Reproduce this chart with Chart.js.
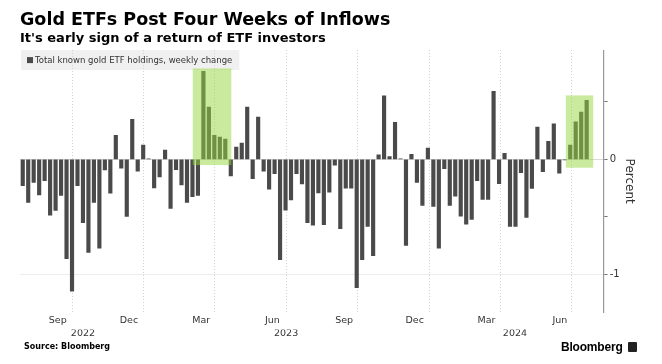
<!DOCTYPE html>
<html>
<head>
<meta charset="utf-8">
<script src="https://cdn.jsdelivr.net/npm/chart.js@4.4.1/dist/chart.umd.min.js"></script>
<style>
  html, body { margin: 0; padding: 0; background: #fff; }
  #wrap { position: relative; width: 662px; height: 364px; }
  #source { position: absolute; left: 24px; top: 342px; font: bold 8px "DejaVu Sans"; color: #000; }
  #logo { position: absolute; left: 561px; top: 340px; font: bold 12px "Liberation Sans"; color: #000; letter-spacing: -0.2px; }
  #logo span { display: inline-block; width: 9px; height: 10px; background: #222; border-radius: 1px; margin-left: 5px; vertical-align: -1px; }
</style>
</head>
<body>
<div id="wrap">
  <canvas id="chart_1" width="662" height="364"></canvas>
  <div id="source">Source: Bloomberg</div>
  <div id="logo">Bloomberg<span></span></div>
</div>
<script>
// weekly change in total known gold ETF holdings, %, late Jul 2022 .. mid Jul 2024
var weeklyChange = [
  -0.23, -0.376, -0.20, -0.31, -0.185, -0.486, -0.445, -0.315, -0.864, -1.147,
  -0.23, -0.552, -0.81, -0.376, -0.772, -0.092, -0.295, 0.208, -0.078, -0.497,
  0.347, -0.104, 0.124, 0.005, -0.249, -0.153, 0.081, -0.428, -0.09, -0.223,
  -0.376, -0.324, -0.315, 0.766, 0.454, 0.208, 0.194, 0.176, -0.145, 0.107,
  0.142, 0.454, -0.168, 0.367, -0.104, -0.26, -0.124, -0.873, -0.442, -0.353,
  -0.124, -0.214, -0.552, -0.572, -0.292, -0.569, -0.286, -0.052, -0.604, -0.251,
  -0.251, -1.116, -0.873, -0.584, -0.838, 0.038, 0.552, 0.023, 0.321, 0.003,
  -0.749, 0.043, -0.202, -0.402, 0.098, -0.41, -0.772, -0.081, -0.402, -0.321,
  -0.494, -0.564, -0.523, -0.185, -0.35, -0.35, 0.592, -0.211, 0.052, -0.584,
  -0.584, -0.116, -0.506, -0.254, 0.28, -0.107, 0.156, 0.309, -0.121, -0.005,
  0.124, 0.327, 0.41, 0.514
];
var seriesName = 'Total known gold ETF holdings, weekly change';

// x axis is in weeks from the first bar
var monthTickWeeks = [6.4, 19.4, 32.6, 45.6, 58.7, 71.6, 84.7, 98.1];
var monthTickLabels = ['Sep', 'Dec', 'Mar', 'Jun', 'Sep', 'Dec', 'Mar', 'Jun'];
var quarterStartWeeks = [9.05, 22.1, 35.1, 48.1, 61.2, 74.25, 87.2, 100.3];
var yearTickWeeks = [11.0, 48.1, 89.9];
var yearTickLabels = ['2022', '2023', '2024'];
var yTickValues = [-1, -0.5, 0, 0.5];

// highlighted inflow streaks: [fromWeek, toWeek, yLow, yHigh]
var inflowStreaks = [
  [31.05, 38.1, -0.05, 0.79],
  [99.2, 104.2, -0.073, 0.556]
];

var barColor = '#4a4a4a';
var txt = '#333';

// legend drawn as a grey label box in the top-left corner of the plot
var legendBox = {
  id: 'legendBox',
  beforeDraw: function(chart) {
    var a = chart.chartArea, ctx = chart.ctx;
    ctx.save();
    ctx.font = '8.5px "DejaVu Sans"';
    var w = ctx.measureText(seriesName).width;
    ctx.fillStyle = '#f0f0f0';
    ctx.fillRect(a.left + 1, a.top, w + 21, 20);
    ctx.restore();
  },
  afterDraw: function(chart) {
    var a = chart.chartArea, ctx = chart.ctx;
    ctx.save();
    ctx.fillStyle = barColor;
    ctx.fillRect(a.left + 7, a.top + 7, 6, 6);
    ctx.fillStyle = txt;
    ctx.font = '8.5px "DejaVu Sans"';
    ctx.textBaseline = 'middle';
    ctx.fillText(seriesName, a.left + 15, a.top + 10.5);
    ctx.restore();
  }
};

var streakBoxes = {
  id: 'streakBoxes',
  afterDatasetsDraw: function(chart) {
    var xs = chart.scales.x, ys = chart.scales.y, ctx = chart.ctx;
    ctx.save();
    ctx.fillStyle = 'rgba(150, 215, 60, 0.5)';
    inflowStreaks.forEach(function(s) {
      var x0 = xs.getPixelForValue(s[0]), x1 = xs.getPixelForValue(s[1]);
      var y0 = ys.getPixelForValue(s[3]), y1 = ys.getPixelForValue(s[2]);
      ctx.fillRect(x0, y0, x1 - x0, y1 - y0);
    });
    ctx.restore();
  }
};

var ctx_1 = document.getElementById('chart_1').getContext('2d');
var chart_1 = new Chart(ctx_1, {
  type: 'bar',
  data: {
    datasets: [{
      label: seriesName,
      data: weeklyChange.map(function(v, i) { return { x: i, y: v }; }),
      backgroundColor: barColor,
      borderWidth: 0,
      barThickness: 3.5
    }]
  },
  options: {
    responsive: false,
    animation: false,
    layout: { padding: { left: 20, right: 20, top: 0, bottom: 27 } },
    plugins: {
      title: {
        display: true, align: 'start', color: '#000',
        text: 'Gold ETFs Post Four Weeks of Inflows',
        font: { family: 'DejaVu Sans', weight: 'bold', size: 17.5 },
        padding: { top: 9.5, bottom: 0 }
      },
      subtitle: {
        display: true, align: 'start', color: '#000',
        text: "It's early sign of a return of ETF investors",
        font: { family: 'DejaVu Sans', weight: 'bold', size: 13 },
        padding: { top: 0, bottom: 4 }
      },
      legend: { display: false },
      tooltip: { enabled: false }
    },
    scales: {
      x: {
        type: 'linear', position: 'bottom', bounds: 'data', offset: false,
        min: -0.5, max: 106.1, weight: 0,
        afterBuildTicks: function(axis) {
          axis.ticks = monthTickWeeks.concat(quarterStartWeeks).map(function(v) { return { value: v }; });
        },
        ticks: {
          autoSkip: false, maxRotation: 0, padding: 3, color: txt,
          font: { family: 'DejaVu Sans', size: 9.5 },
          callback: function(value, index) { return index < monthTickLabels.length ? monthTickLabels[index] : ''; }
        },
        grid: {
          offset: false, drawTicks: false,
          color: function(c) { return c.index >= monthTickLabels.length ? '#d0d0d0' : 'rgba(0,0,0,0)'; }
        },
        border: { display: false, dash: [1, 2] }
      },
      xYear: {
        type: 'linear', position: 'bottom', bounds: 'data', offset: false,
        min: -0.5, max: 106.1, weight: 1,
        afterBuildTicks: function(axis) {
          axis.ticks = yearTickWeeks.map(function(v) { return { value: v }; });
        },
        ticks: {
          autoSkip: false, maxRotation: 0, padding: -2, color: txt,
          font: { family: 'DejaVu Sans', size: 9.5 },
          callback: function(value, index) { return yearTickLabels[index]; }
        },
        grid: { display: false, drawTicks: false },
        border: { display: false }
      },
      y: {
        position: 'right', bounds: 'data', min: -1.33, max: 0.95,
        afterBuildTicks: function(axis) {
          axis.ticks = yTickValues.map(function(v) { return { value: v }; });
        },
        ticks: {
          padding: 2, color: txt,
          font: { family: 'DejaVu Sans', size: 10 },
          callback: function(value) { return (value === 0 || value === -1) ? String(value) : ''; }
        },
        grid: {
          tickLength: 4, tickColor: '#777', tickWidth: 1,
          color: function(c) {
            if (!c.tick) return 'rgba(0,0,0,0)';
            if (c.tick.value === 0) return '#dadada';
            if (c.tick.value === -1) return '#ececec';
            return 'rgba(0,0,0,0)';
          }
        },
        border: { display: true, color: '#999', width: 1.2 },
        title: {
          display: true, text: 'Percent', color: txt,
          font: { family: 'DejaVu Sans', size: 12 },
          padding: { top: 6, bottom: 0 }
        }
      }
    }
  },
  plugins: [legendBox, streakBoxes]
});
</script>
</body>
</html>
